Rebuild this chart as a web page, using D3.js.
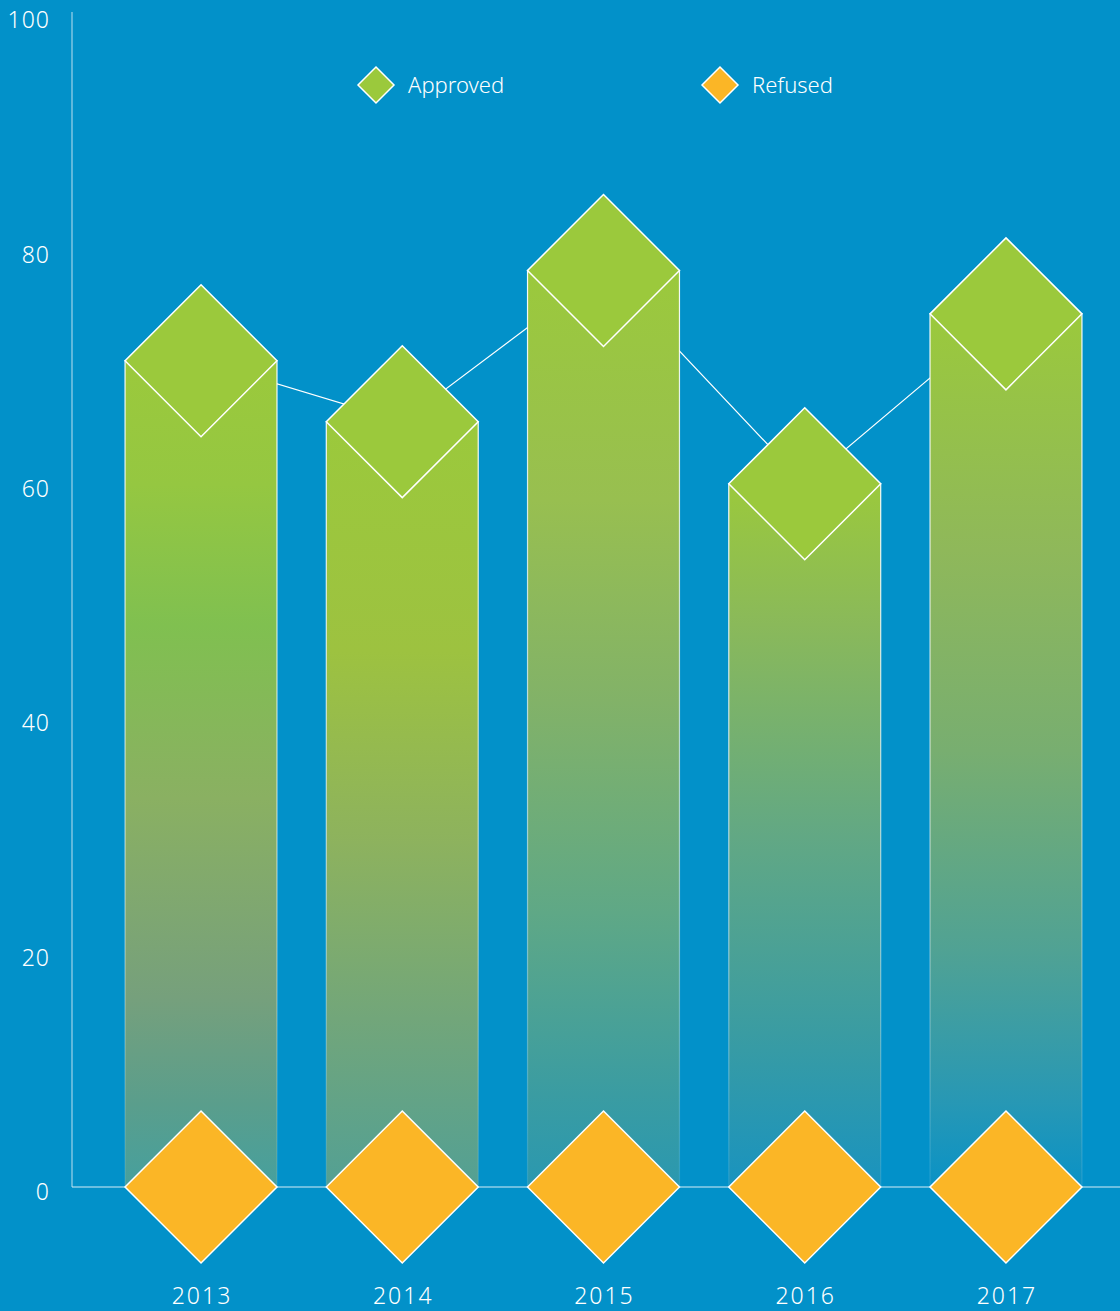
<!DOCTYPE html>
<html>
<head>
<meta charset="utf-8">
<script src="https://cdn.jsdelivr.net/npm/d3@7"></script>
<style>
  html, body { margin: 0; padding: 0; background: #0291c9; }
  svg { display: block; }
  text { font-family: "Noto Sans", Roboto, sans-serif; fill: #ffffff; }
</style>
</head>
<body>
<div id="chart"></div>
<script>
// ---- data ----
const years = ["2013", "2014", "2015", "2016", "2017"];
const approved = [70.5, 65.3, 78.2, 60.0, 74.5];
const refused = [0, 0, 0, 0, 0];
const yTicks = [0, 20, 40, 60, 80, 100];
const seriesNames = ["Approved", "Refused"];

// ---- styles ----
const W = 1120, H = 1311;
const BG = "#0291c9";
const GREEN = "#9bc93c";
const ORANGE = "#fbb626";
const barGradients = [
  [[0, "#9bc93c"], [0.15, "#95c741"], [0.32, "#80c050"], [0.53, "#8ab062"], [0.77, "#76a07c"], [0.9, "#5a9e8c"], [1, "#46a09e"]],
  [[0, "#9bc93c"], [0.3, "#9dc240"], [0.55, "#8db25e"], [0.78, "#72a67a"], [1, "#53a094"]],
  [[0, "#9bc93c"], [0.25, "#98bf50"], [0.47, "#82b268"], [0.7, "#5fa886"], [0.9, "#3a9ca2"], [1, "#2a98b0"]],
  [[0, "#9bc93c"], [0.2, "#8ab95a"], [0.5, "#62a884"], [0.78, "#3a9ca2"], [1, "#1993bf"]],
  [[0, "#9bc93c"], [0.27, "#8fb85a"], [0.5, "#78ae70"], [0.73, "#50a294"], [0.9, "#2898b4"], [1, "#0a92c6"]]
];

const svg = d3.select("#chart").append("svg")
  .attr("width", W).attr("height", H);

svg.append("rect").attr("width", W).attr("height", H).attr("fill", BG);

const x = d3.scaleBand()
  .domain(years)
  .range([100.4, 1106.6])
  .paddingInner(0.245)
  .paddingOuter(0.1225);

const y = d3.scaleLinear().domain([0, 100]).range([1187, 15]);

const defs = svg.append("defs");
years.forEach((yr, i) => {
  const g = defs.append("linearGradient")
    .attr("id", "grad" + i)
    .attr("x1", 0).attr("y1", 0).attr("x2", 0).attr("y2", 1);
  barGradients[i].forEach(s => g.append("stop").attr("offset", s[0]).attr("stop-color", s[1]));
});
const sg = defs.append("linearGradient").attr("id", "strokeGrad")
  .attr("x1", 0).attr("y1", 0).attr("x2", 0).attr("y2", 1);
sg.append("stop").attr("offset", 0).attr("stop-color", "#fff").attr("stop-opacity", 0.95);
sg.append("stop").attr("offset", 0.6).attr("stop-color", "#fff").attr("stop-opacity", 0.55);
sg.append("stop").attr("offset", 1).attr("stop-color", "#fff").attr("stop-opacity", 0.1);

// y axis
const yAxis = d3.axisLeft(y).tickValues(yTicks).tickSize(0).tickPadding(22);
const ya = svg.append("g").attr("transform", "translate(72,0)").call(yAxis);
ya.select(".domain").remove();
ya.selectAll("text")
  .attr("dy", "0.55em")
  .attr("fill", "#fff")
  .style("font-size", "23px")
  .style("letter-spacing", "1px")
  .style("font-family", "\"Noto Sans\", Roboto, sans-serif")
  .style("font-weight", 300);
svg.append("line")
  .attr("x1", 72).attr("x2", 72).attr("y1", 12).attr("y2", y(0))
  .attr("stroke", "#9fd3ea").attr("stroke-width", 1.2);

// connecting line for approved (behind bars)
const cx = d => x(d) + x.bandwidth() / 2;
const lineGen = d3.line().x(d => cx(d.year)).y(d => y(d.v));
svg.append("path")
  .datum(years.map((yr, i) => ({ year: yr, v: approved[i] })))
  .attr("d", lineGen)
  .attr("fill", "none").attr("stroke", "#fff").attr("stroke-width", 1.2);

// bars
svg.selectAll("rect.bar").data(years).enter().append("rect")
  .attr("class", "bar")
  .attr("x", d => x(d))
  .attr("y", (d, i) => y(approved[i]))
  .attr("width", x.bandwidth())
  .attr("height", (d, i) => y(0) - y(approved[i]))
  .attr("fill", (d, i) => "url(#grad" + i + ")")
  .attr("stroke", "url(#strokeGrad)")
  .attr("stroke-width", 1.2);

// refused baseline / x axis
svg.append("line")
  .attr("x1", 72).attr("x2", W).attr("y1", y(0)).attr("y2", y(0))
  .attr("stroke", "#d6eef8").attr("stroke-width", 1.2);

const r = x.bandwidth() / 2;
const diamond = (cxv, cyv, rr) => `M${cxv},${cyv - rr}L${cxv + rr},${cyv}L${cxv},${cyv + rr}L${cxv - rr},${cyv}Z`;

svg.selectAll("path.appr").data(years).enter().append("path")
  .attr("class", "appr")
  .attr("d", (d, i) => diamond(cx(d), y(approved[i]), r))
  .attr("fill", GREEN).attr("stroke", "#fff").attr("stroke-width", 1.5);

svg.selectAll("path.ref").data(years).enter().append("path")
  .attr("class", "ref")
  .attr("d", (d, i) => diamond(cx(d), y(refused[i]), r))
  .attr("fill", ORANGE).attr("stroke", "#fff").attr("stroke-width", 1.5);

// x labels
svg.selectAll("text.xl").data(years).enter().append("text")
  .attr("class", "xl")
  .attr("x", d => cx(d) + 1)
  .attr("y", 1304)
  .attr("text-anchor", "middle")
  .style("font-size", "23px")
  .style("letter-spacing", "2px")
  .style("font-weight", 300)
  .text(d => d);

// legend
const legendPos = [{ x: 376, c: GREEN }, { x: 720, c: ORANGE }];
seriesNames.forEach((name, i) => {
  const lp = legendPos[i];
  svg.append("path").attr("d", diamond(lp.x, 85, 18))
    .attr("fill", lp.c).attr("stroke", "#fff").attr("stroke-width", 1.5);
  svg.append("text").attr("x", lp.x + 32).attr("y", 93)
    .style("font-size", "22px").style("font-weight", 300)
    .text(name);
});
</script>
</body>
</html>
